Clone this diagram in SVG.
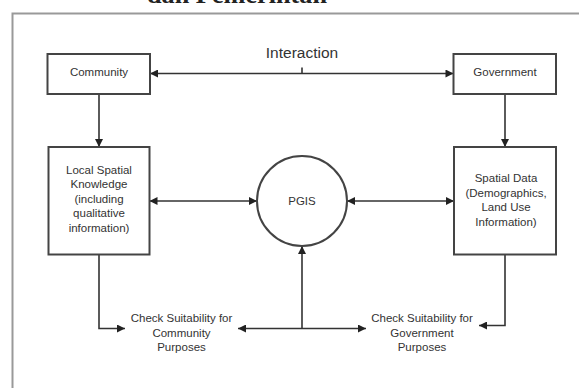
<svg xmlns="http://www.w3.org/2000/svg" width="579" height="388" viewBox="0 0 579 388">
  <style>
    .box { fill: #ffffff; stroke: #444444; stroke-width: 2; }
    .conn { fill: none; stroke: #333333; stroke-width: 1.6; }
    .lbl { font-family: "Liberation Sans", Arial, sans-serif; font-size: 11.5px; fill: #333333; text-anchor: middle; }
    .frame { fill: none; stroke: #999999; stroke-width: 2; }
  </style>
  <defs>
    <marker id="arr" viewBox="0 0 10 10" refX="10" refY="5" markerUnits="userSpaceOnUse" markerWidth="9" markerHeight="8" orient="auto-start-reverse">
      <path d="M0,0 L10,5 L0,10 z" fill="#222222"/>
    </marker>
  </defs>
  <rect width="579" height="388" fill="#ffffff"/>
  <text x="237" y="3" font-family="'Liberation Serif', 'Times New Roman', serif" font-weight="bold" font-size="26" text-anchor="middle" fill="#222222" textLength="180" lengthAdjust="spacingAndGlyphs">dan Pemerintah</text>
  <path class="frame" d="M12.5,390 L12.5,13.5 L582,13.5"/>

  <g id="connectors">
    <line class="conn" x1="150" y1="73.5" x2="453.5" y2="73.5" marker-start="url(#arr)" marker-end="url(#arr)"/>
    <line class="conn" x1="302" y1="67.5" x2="302" y2="73.5"/>
    <line class="conn" x1="99" y1="94" x2="99" y2="147" marker-end="url(#arr)"/>
    <line class="conn" x1="505" y1="94" x2="505" y2="147" marker-end="url(#arr)"/>
    <line class="conn" x1="149.5" y1="201" x2="257" y2="201" marker-start="url(#arr)" marker-end="url(#arr)"/>
    <line class="conn" x1="347" y1="201" x2="454" y2="201" marker-start="url(#arr)" marker-end="url(#arr)"/>
    <polyline class="conn" points="99,254.5 99,328.5 125,328.5" marker-end="url(#arr)"/>
    <polyline class="conn" points="505,254.5 505,325.5 479,325.5" marker-end="url(#arr)"/>
    <line class="conn" x1="238" y1="328.5" x2="366" y2="328.5" marker-start="url(#arr)" marker-end="url(#arr)"/>
    <line class="conn" x1="302" y1="328.5" x2="302" y2="246" marker-end="url(#arr)"/>
  </g>

  <text class="lbl" x="302" y="57.5" font-size="15.5" style="font-size:15.5px">Interaction</text>

  <g id="community">
    <rect class="box" x="47.5" y="54" width="102.5" height="40"/>
    <text class="lbl" x="99" y="75.5">Community</text>
  </g>
  <g id="government">
    <rect class="box" x="453.5" y="54" width="102.5" height="40"/>
    <text class="lbl" x="505" y="75.5">Government</text>
  </g>
  <g id="local-knowledge">
    <rect class="box" x="48.5" y="147" width="101" height="107.5"/>
    <text class="lbl" x="99" y="173.5">Local Spatial</text>
    <text class="lbl" x="99" y="188">Knowledge</text>
    <text class="lbl" x="99" y="202.5">(including</text>
    <text class="lbl" x="99" y="217">qualitative</text>
    <text class="lbl" x="99" y="231.5">information)</text>
  </g>
  <g id="pgis">
    <circle cx="302" cy="201" r="45" fill="#ffffff" stroke="#444444" stroke-width="2"/>
    <text class="lbl" x="302" y="205">PGIS</text>
  </g>
  <g id="spatial-data">
    <rect class="box" x="454" y="147" width="102" height="107.5"/>
    <text class="lbl" x="506" y="182">Spatial Data</text>
    <text class="lbl" x="506" y="196.5">(Demographics,</text>
    <text class="lbl" x="506" y="211">Land Use</text>
    <text class="lbl" x="506" y="225.5">Information)</text>
  </g>
  <g id="check-community">
    <text class="lbl" x="181.5" y="322">Check Suitability for</text>
    <text class="lbl" x="181.5" y="336.5">Community</text>
    <text class="lbl" x="181.5" y="351">Purposes</text>
  </g>
  <g id="check-government">
    <text class="lbl" x="422" y="322">Check Suitability for</text>
    <text class="lbl" x="422" y="336.5">Government</text>
    <text class="lbl" x="422" y="351">Purposes</text>
  </g>
</svg>
